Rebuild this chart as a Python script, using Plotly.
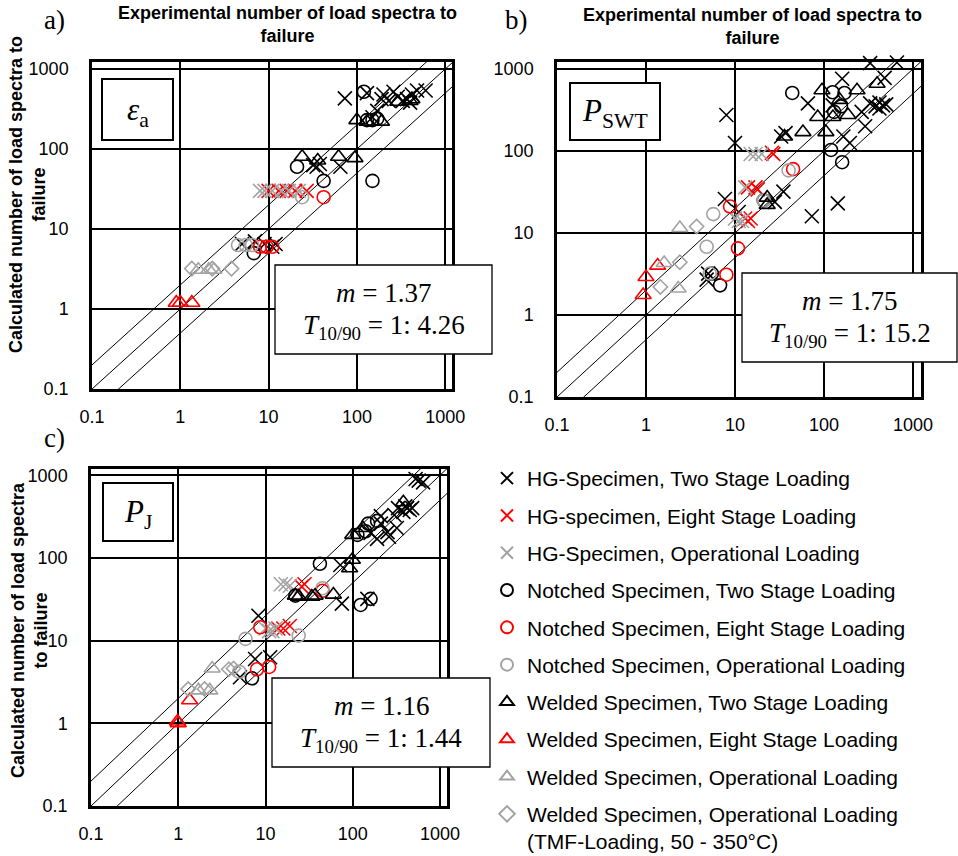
import plotly.graph_objects as go

W, H = 958, 856

# ---------------- data (experimental N, calculated N) ----------------
series_names = [
    "HG-Specimen, Two Stage Loading",
    "HG-specimen, Eight Stage Loading",
    "HG-Specimen, Operational Loading",
    "Notched Specimen, Two Stage Loading",
    "Notched Specimen, Eight Stage Loading",
    "Notched Specimen, Operational Loading",
    "Welded Specimen, Two Stage Loading",
    "Welded Specimen, Eight Stage Loading",
    "Welded Specimen, Operational Loading",
    "Welded Specimen, Operational Loading<br>(TMF-Loading, 50 - 350°C)",
]

# panel a) epsilon_a
a_hg_two = [(73, 430), (130, 500), (150, 250), (170, 300), (190, 420), (200, 480), (230, 400), (260, 520),
            (290, 450), (330, 400), (370, 420), (400, 380), (420, 480), (480, 540), (600, 540),
            (32, 63), (35, 60), (38, 65), (65, 60), (5, 6.5), (7, 7), (9, 6.5), (11, 6), (12, 6.5)]
a_hg_eight = [(10, 30), (13, 30), (16, 30), (20, 30), (27, 30)]
a_hg_op = [(8, 30), (9, 30), (11, 30), (14, 30), (17, 30), (22, 30)]
a_n_two = [(6.8, 5), (21, 60), (42, 40), (150, 40), (120, 520), (150, 230), (170, 240), (130, 230)]
a_n_eight = [(8, 6), (9.5, 6), (11, 6), (42, 25)]
a_n_op = [(4.5, 6.3), (5.5, 6.3), (6.5, 6.3), (24, 25)]
a_w_two = [(24, 80), (36, 72), (62, 80), (95, 77), (100, 230), (130, 220), (190, 220), (290, 390),
           (400, 400), (420, 420)]
a_w_eight = [(0.9, 1.2), (1.0, 1.2), (1.35, 1.2)]
a_w_op = [(1.6, 3.1), (2.1, 3.1), (2.4, 3.1)]
a_w_tmf = [(1.35, 3.2), (2.3, 3.2), (3.8, 3.2)]

# panel b) P_SWT
b_hg_two = [(8, 275), (10, 125), (5, 3.2), (4.8, 2.7), (7.7, 26), (11, 18), (28, 24), (35, 32), (33, 150),
            (37, 165), (66, 380), (73, 16), (143, 23), (125, 360), (160, 760), (165, 150), (195, 125),
            (265, 300), (290, 200), (330, 1180), (660, 1200), (480, 780), (330, 380), (380, 350),
            (420, 390), (460, 360), (500, 370), (420, 330)]
b_hg_eight = [(14, 36), (17, 36), (18, 34), (26, 95), (27, 92), (13, 15), (14, 14), (15, 15)]
b_hg_op = [(15, 92), (17, 92), (20, 92), (13, 36), (10, 15), (11, 14), (12, 14)]
b_n_two = [(44, 510), (125, 520), (170, 510), (155, 350), (130, 300), (120, 103), (160, 73), (21, 25),
           (6.8, 2.3), (5.5, 3.2)]
b_n_eight = [(45, 60), (8.8, 21), (10.8, 6.5), (8, 3.1)]
b_n_op = [(40, 58), (5.7, 17), (4.8, 6.8), (5.2, 3.2), (21, 25)]
b_w_two = [(36, 150), (58, 170), (95, 550), (85, 260), (105, 170), (126, 260), (186, 275), (235, 550),
           (395, 660), (23, 27), (23, 22), (150, 420)]
b_w_eight = [(1.0, 2.9), (0.93, 1.75), (1.35, 4.0)]
b_w_op = [(2.4, 11.5), (1.6, 4.3), (2.3, 2.1)]
b_w_tmf = [(3.7, 12), (2.4, 4.4), (1.45, 2.2)]

# panel c) P_J
c_hg_two = [(525, 900), (640, 820), (570, 860), (420, 400), (480, 400), (380, 360), (330, 400), (300, 330),
            (210, 320), (250, 205), (190, 170), (320, 230), (260, 180), (160, 200), (210, 260), (72, 82),
            (75, 28), (147, 32), (8.3, 20), (7.6, 6), (11.3, 6.3), (5.1, 3.6), (400, 420), (450, 380)]
c_hg_eight = [(28, 48), (26, 45), (19, 15), (16, 14), (14, 14)]
c_hg_op = [(15, 48), (17, 48), (19, 46), (10, 14), (11, 13), (12, 13), (13, 14)]
c_n_two = [(42, 85), (123, 27), (160, 32), (7, 3.5), (22, 35), (113, 190), (150, 260), (190, 280), (140, 210)]
c_n_eight = [(8.7, 14.5), (45, 40), (8, 4.5), (11, 4.8)]
c_n_op = [(5.9, 10.5), (24, 11.5), (5, 4.2), (45, 43)]
c_w_two = [(99, 95), (92, 75), (60, 36), (22, 35), (24, 34), (34, 34), (37, 35), (100, 190), (380, 470),
           (130, 230)]
c_w_eight = [(0.98, 1.05), (1.0, 1.0), (1.35, 1.9)]
c_w_op = [(2.45, 4.6), (1.7, 2.5), (2.3, 2.5)]
c_w_tmf = [(3.8, 4.5), (4.3, 4.6), (1.3, 2.6), (2.0, 2.6)]

tick_vals = [0.1, 1, 10, 100, 1000]
tick_text = ["0.1", "1", "10", "100", "1000"]
band_factors = [0.5, 1, 2]          # lines N_calc = k * N_exp
band_x = [0.1, 3000]

stats_a = ("1.37", "1: 4.26")
stats_b = ("1.75", "1: 15.2")
stats_c = ("1.16", "1: 1.44")

# ---------------- styles ----------------
GRAY = "#A3A3A3"
symbols = ["x-thin-open", "x-thin-open", "x-thin-open",
           "circle-open", "circle-open", "circle-open",
           "triangle-up-open", "triangle-up-open", "triangle-up-open",
           "diamond-open"]
colors = ["black", "red", GRAY, "black", "red", GRAY, "black", "red", GRAY, GRAY]
sizes = [14, 14, 14, 13, 13, 13, 14, 14, 14, 11]

panels = [
    [a_hg_two, a_hg_eight, a_hg_op, a_n_two, a_n_eight, a_n_op, a_w_two, a_w_eight, a_w_op, a_w_tmf],
    [b_hg_two, b_hg_eight, b_hg_op, b_n_two, b_n_eight, b_n_op, b_w_two, b_w_eight, b_w_op, b_w_tmf],
    [c_hg_two, c_hg_eight, c_hg_op, c_n_two, c_n_eight, c_n_op, c_w_two, c_w_eight, c_w_op, c_w_tmf],
]


def px_x(p):
    return p / W


def px_y(p):
    return 1 - p / H


# plot frames in pixels: (left, right, top, bottom, xrange_top_log, yrange_top_log)
frames = [
    (92, 452, 62, 389, 3.077, 3.088),
    (557, 921, 62, 397, 3.09, 3.085),
    (91, 447, 469, 806, 3.08, 3.075),
]

fig = go.Figure()

for pi, series in enumerate(panels):
    xa = "x" if pi == 0 else f"x{pi + 1}"
    ya = "y" if pi == 0 else f"y{pi + 1}"
    for k in band_factors:
        fig.add_trace(go.Scatter(
            x=band_x, y=[k * v for v in band_x], mode="lines",
            line=dict(color="black", width=1), showlegend=False, hoverinfo="skip",
            xaxis=xa, yaxis=ya))
    for si, pts in enumerate(series):
        fig.add_trace(go.Scatter(
            x=[p[0] for p in pts], y=[p[1] for p in pts], mode="markers",
            name=series_names[si], legendgroup=f"g{si}", showlegend=(pi == 0),
            marker=dict(symbol=symbols[si], size=sizes[si], color=colors[si],
                        line=dict(color=colors[si], width=1.6)),
            cliponaxis=False,
            xaxis=xa, yaxis=ya))

axis_common = dict(
    type="log", tickvals=tick_vals, ticktext=tick_text,
    showgrid=True, gridcolor="black", gridwidth=2,
    showline=True, linecolor="black", linewidth=2.5, mirror=True,
    ticks="", tickfont=dict(family="Liberation Sans, Arial", size=18, color="black"),
    zeroline=False, automargin=False,
)

layout_axes = {}
for pi, (l, r, t, b, xr, yr) in enumerate(frames):
    sx = "" if pi == 0 else str(pi + 1)
    layout_axes[f"xaxis{sx}"] = dict(axis_common, domain=[px_x(l), px_x(r)], range=[-1, xr],
                                     anchor=f"y{sx}", ticklabelstandoff=10)
    layout_axes[f"yaxis{sx}"] = dict(axis_common, domain=[px_y(b), px_y(t)], range=[-1, yr],
                                     anchor=f"x{sx}", ticklabelstandoff=17)

fig.update_layout(
    width=W, height=H, margin=dict(l=0, r=0, t=0, b=0, pad=0, autoexpand=False),
    paper_bgcolor="white", plot_bgcolor="white",
    showlegend=True,
    legend=dict(x=px_x(487), y=px_y(458), xanchor="left", yanchor="top",
                font=dict(family="Liberation Sans, Arial", size=21, color="black"),
                tracegroupgap=7, itemsizing="constant", valign="top",
                bgcolor="rgba(0,0,0,0)"),
    **layout_axes,
)

shapes = []
annotations = []

TITLE_FONT = dict(family="Liberation Sans, Arial", size=18, color="black")
SERIF = "Liberation Serif, Times New Roman, serif"


def note(text, cx, cy, font, angle=0):
    annotations.append(dict(x=px_x(cx), y=px_y(cy), xref="paper", yref="paper", showarrow=False,
                            text=text, font=font, textangle=angle,
                            xanchor="center", yanchor="middle"))


# axis titles (top for a and b, left for a and c)
note("<b>Experimental number of load spectra to<br>failure</b>", 287, 25, TITLE_FONT)
note("<b>Experimental number of load spectra to<br>failure</b>", 752, 27, TITLE_FONT)
note("<b>Calculated number of load spectra to<br>failure</b>", 27, 195, TITLE_FONT, -90)
note("<b>Calculated number of load spectra<br>to failure</b>", 29, 630, TITLE_FONT, -90)

# panel letters
for txt, cx, cy in [("a)", 54, 20), ("b)", 516, 20), ("c)", 54, 438)]:
    note(txt, cx, cy, dict(family=SERIF, size=27, color="black"))

# parameter label boxes
for (x0, y0, x1, y1), txt in [((102, 79, 173, 140), "<i>ε</i><sub>a</sub>"),
                              ((570, 83, 660, 140), "<i>P</i><sub>SWT</sub>"),
                              ((103, 483, 173, 541), "<i>P</i><sub>J</sub>")]:
    shapes.append(dict(type="rect", xref="paper", yref="paper", x0=px_x(x0), x1=px_x(x1),
                       y0=px_y(y0), y1=px_y(y1), line=dict(color="black", width=2),
                       fillcolor="white", layer="above"))
    note(txt, (x0 + x1) / 2, (y0 + y1) / 2 + 2, dict(family=SERIF, size=31, color="black"))

# statistics boxes
STAT_FONT = dict(family=SERIF, size=27, color="black")
for (x0, y0, x1, y1), (m, t) in [((275, 265, 492, 354), stats_a),
                                 ((742, 273, 957, 362), stats_b),
                                 ((272, 678, 490, 767), stats_c)]:
    shapes.append(dict(type="rect", xref="paper", yref="paper", x0=px_x(x0), x1=px_x(x1),
                       y0=px_y(y0), y1=px_y(y1), line=dict(color="black", width=1.3),
                       fillcolor="white", layer="above"))
    cx = (x0 + x1) / 2
    note(f"<i>m</i> = {m}", cx, y0 + 28, STAT_FONT)
    note(f"<i>T</i><sub>10/90</sub> = {t}", cx, y0 + 62, STAT_FONT)

fig.update_layout(shapes=shapes, annotations=annotations)

fig.write_html("out.html", config={"displayModeBar": False},
               post_script="document.body.style.margin='0';")
